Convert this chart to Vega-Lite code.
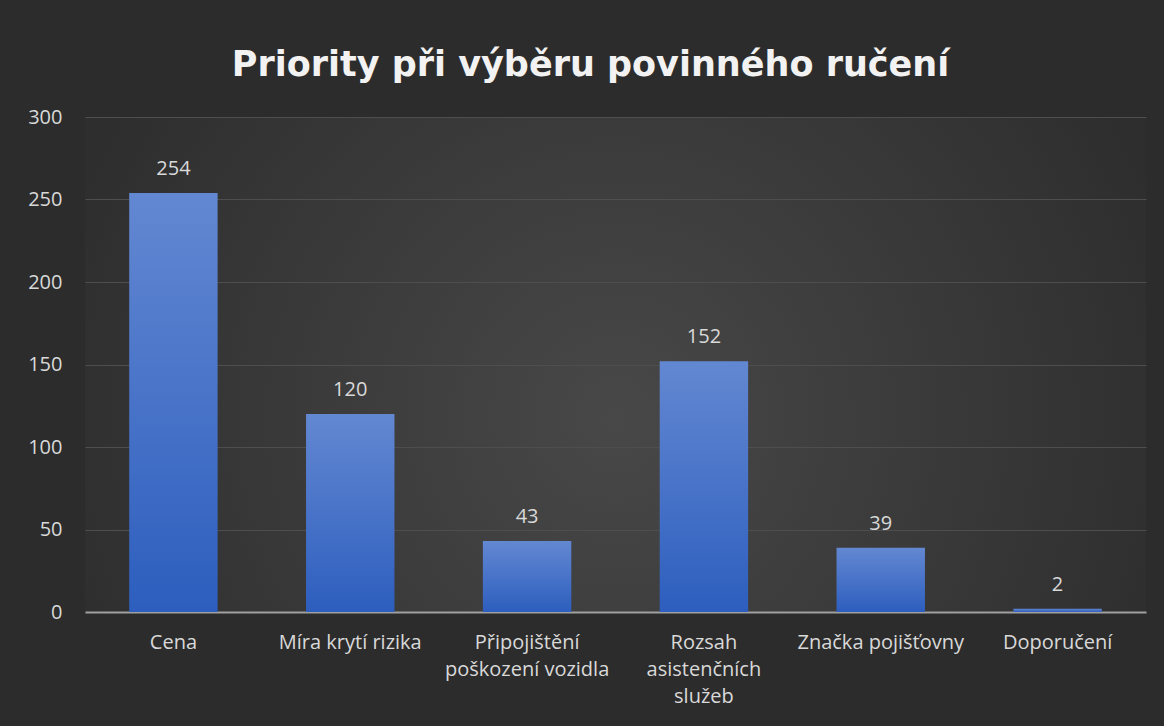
{
  "$schema": "https://vega.github.io/schema/vega-lite/v6.json",
  "autosize": {"type": "none"},
  "width": 1061,
  "height": 495,
  "padding": {"left": 85, "top": 117, "right": 18, "bottom": 114},
  "background": "#2c2c2c",
  "title": {
    "text": "Priority při výběru povinného ručení",
    "font": "DejaVu Sans",
    "fontSize": 35,
    "fontWeight": "bold",
    "color": "#f2f2f2",
    "anchor": "middle",
    "dx": -25,
    "offset": 24
  },
  "data": {
    "values": [
      {"kategorie": "Cena", "pocet": 254},
      {"kategorie": "Míra krytí rizika", "pocet": 120},
      {"kategorie": "Připojištění poškození vozidla", "pocet": 43},
      {"kategorie": "Rozsah asistenčních služeb", "pocet": 152},
      {"kategorie": "Značka pojišťovny", "pocet": 39},
      {"kategorie": "Doporučení", "pocet": 2}
    ]
  },
  "config": {
    "view": {
      "stroke": null,
      "fill": {
        "gradient": "radial",
        "x1": 0.5, "y1": 0.55, "r1": 0,
        "x2": 0.5, "y2": 0.55, "r2": 0.55,
        "stops": [
          {"offset": 0, "color": "#484848"},
          {"offset": 1, "color": "#2e2e2e"}
        ]
      }
    }
  },
  "encoding": {
    "x": {
      "field": "kategorie",
      "type": "nominal",
      "sort": null,
      "title": null,
      "scale": {"paddingInner": 0.5, "paddingOuter": 0.25},
      "axis": {
        "labelAngle": 0,
        "labelFont": "Open Sans",
        "labelFontSize": 20,
        "labelColor": "#d9d9d9",
        "labelPadding": 20,
        "labelLineHeight": 27,
        "labelBaseline": "top",
        "ticks": false,
        "domainColor": "#a0a0a0",
        "domainWidth": 2,
        "grid": false,
        "labelExpr": "datum.value == 'Připojištění poškození vozidla' ? ['Připojištění', 'poškození vozidla'] : datum.value == 'Rozsah asistenčních služeb' ? ['Rozsah', 'asistenčních', 'služeb'] : datum.value"
      }
    },
    "y": {
      "field": "pocet",
      "type": "quantitative",
      "title": null,
      "scale": {"domain": [0, 300]},
      "axis": {
        "values": [0, 50, 100, 150, 200, 250, 300],
        "labelFont": "Open Sans",
        "labelFontSize": 20,
        "labelColor": "#d9d9d9",
        "labelPadding": 23,
        "ticks": false,
        "domain": false,
        "gridColor": "#4e4e4e",
        "gridWidth": 1
      }
    }
  },
  "layer": [
    {
      "mark": {
        "type": "bar",
        "color": {
          "gradient": "linear",
          "x1": 0, "y1": 0, "x2": 0, "y2": 1,
          "stops": [
            {"offset": 0, "color": "#6388d2"},
            {"offset": 1, "color": "#2d5ebe"}
          ]
        }
      }
    },
    {
      "mark": {
        "type": "text",
        "font": "Open Sans",
        "fontSize": 20,
        "color": "#d9d9d9",
        "baseline": "alphabetic",
        "dy": -18
      },
      "encoding": {"text": {"field": "pocet", "type": "quantitative"}}
    }
  ]
}
